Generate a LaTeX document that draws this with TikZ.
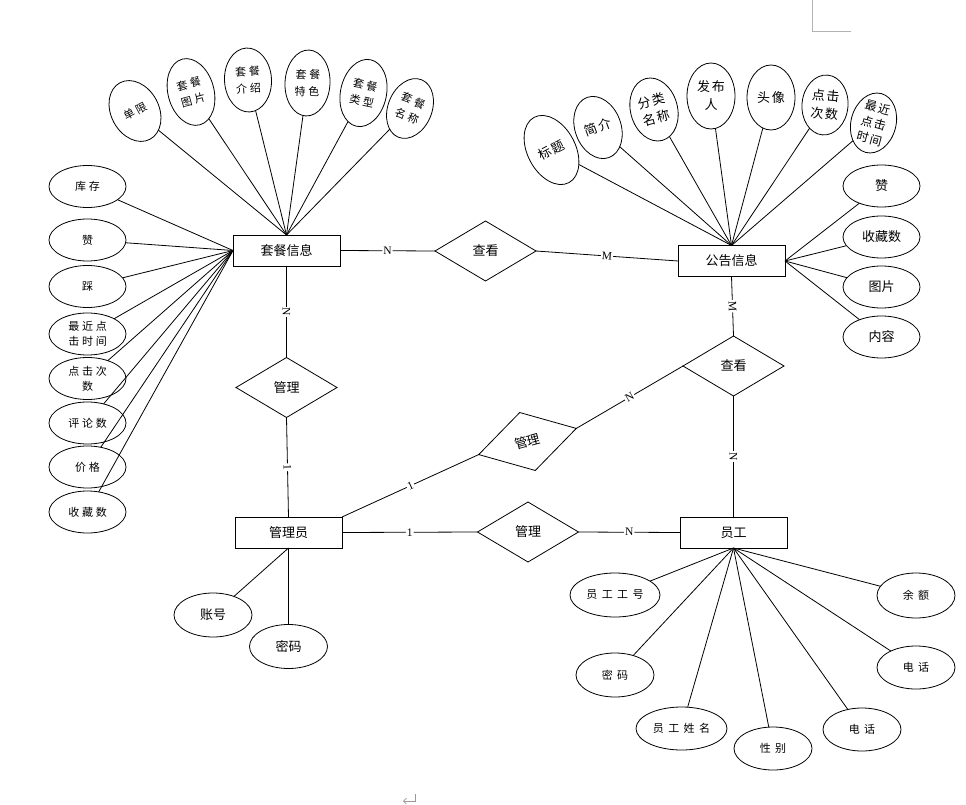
\documentclass[tikz,border=0pt]{standalone}
\usepackage{fontspec}
\setmainfont{Liberation Serif}
\newfontfamily\cjk{Noto Sans CJK SC}
\newfontfamily\cjkrt[LetterSpace=12]{Noto Sans CJK SC}
\newfontfamily\cjksp[LetterSpace=25]{Noto Sans CJK SC}
\newfontfamily\cjkwd[LetterSpace=40]{Noto Sans CJK SC}
\usetikzlibrary{shapes.geometric,arrows.meta}
\begin{document}
\begin{tikzpicture}[x=1pt,y=-1pt,
  ent/.style={draw, rectangle, minimum width=107pt, minimum height=31pt, inner sep=0pt, outer sep=0pt, line width=0.9pt, font=\cjk\fontsize{13}{15}\selectfont},
  rel/.style={draw, diamond, minimum width=101pt, minimum height=60pt, inner sep=0pt, outer sep=0pt, line width=0.8pt, font=\cjk\fontsize{13}{15}\selectfont},
  attr/.style={draw, ellipse, inner sep=0pt, outer sep=0pt, align=center, line width=0.8pt},
  sz/.style 2 args={minimum width=#1pt, minimum height=#2pt},
  ftop/.style={font=\cjksp\fontsize{11}{17}\selectfont},
  fgg/.style={font=\cjkrt\fontsize{13}{18}\selectfont},
  fleft/.style={font=\cjksp\fontsize{11}{15}\selectfont},
  fbig/.style={font=\cjk\fontsize{13}{15}\selectfont},
  fyg/.style={font=\cjkwd\fontsize{11}{15}\selectfont},
  lk/.style={line width=0.8pt},
  lbl/.style={fill=white, inner sep=1pt, sloped, font=\fontsize{11.5}{12}\selectfont}
]
\fill[white] (0,0) rectangle (966,805);
\useasboundingbox (0,0) rectangle (966,805);

% entities
\node[ent] (tc) at (286.5,250.5) {套餐信息};
\node[ent] (gg) at (731.5,261) {公告信息};
\node[ent] (gly) at (288.5,532.5) {管理员};
\node[ent] (yg) at (733.5,532.5) {员工};

% relationships
\node[rel] (ck1) at (485.5,251) {查看};
\node[rel] (gl1) at (286.5,387.5) {管理};
\node[rel] (ck2) at (733.5,366) {查看};
\node[rel, rotate=15] (gl2) at (527.5,441.5) {管理};
\node[rel] (gl3) at (528,532) {管理};

% relationship connectors
\draw[lk] (tc.east) -- node[lbl]{N} (ck1.west);
\draw[lk] (ck1.east) -- node[lbl]{M} (gg.west);
\draw[lk] (gg.south) -- node[lbl]{M} (ck2.north);
\draw[lk] (ck2.south) -- node[lbl]{N} (yg.north);
\draw[lk] (tc.south) -- node[lbl]{N} (gl1.north);
\draw[lk] (gl1.south) -- node[lbl]{1} (gly.north);
\draw[lk] (gly.north east) -- node[lbl]{1} (gl2.west);
\draw[lk] (gl2.east) -- node[lbl]{N} (ck2.west);
\draw[lk] (gly.east) -- node[lbl]{1} (gl3.west);
\draw[lk] (gl3.east) -- node[lbl]{N} (yg.west);

% 套餐信息 top attributes
\node[attr, ftop, sz={48}{64}, rotate=28] (t1) at (135,111) {单限};
\node[attr, ftop, sz={46}{68}, rotate=15] (t2) at (191,92) {套餐\\图片};
\node[attr, ftop, sz={47}{64}, rotate=3] (t3) at (248,80) {套餐\\介绍};
\node[attr, ftop, sz={45}{66}, rotate=-3] (t4) at (307.5,83) {套餐\\特色};
\node[attr, ftop, sz={46}{68}, rotate=-12] (t5) at (363.5,93) {套餐\\类型};
\node[attr, ftop, sz={44}{62}, rotate=-22] (t6) at (410,108.5) {套餐\\名称};
\foreach \n in {t1,t2,t3,t4,t5,t6} \draw[lk] (\n) -- (tc.north);

% 套餐信息 left attributes
\node[attr, fleft, sz={77}{42}] (l1) at (87.5,186.5) {库存};
\node[attr, fleft, sz={77}{42}] (l2) at (87.5,240) {赞};
\node[attr, fleft, sz={77}{42}] (l3) at (87.5,286.5) {踩};
\node[attr, fleft, sz={77}{42}] (l4) at (87.5,334) {最近点\\击时间};
\node[attr, fleft, sz={77}{42}] (l5) at (87.5,378.5) {点击次\\数};
\node[attr, fleft, sz={77}{42}] (l6) at (87.5,423) {评论数};
\node[attr, fleft, sz={77}{42}] (l7) at (87.5,467) {价格};
\node[attr, fleft, sz={77}{42}] (l8) at (87.5,512) {收藏数};
\foreach \n in {l1,l2,l3,l4,l5,l6,l7,l8} \draw[lk] (\n) -- (tc.west);

% 公告信息 top attributes
\node[attr, fgg, sz={48}{74}, rotate=28] (g1) at (551.5,150) {标题};
\node[attr, fgg, sz={46}{64}, rotate=20] (g2) at (598,127.5) {简介};
\node[attr, fgg, sz={47}{64}, rotate=15] (g3) at (654,109.5) {分类\\名称};
\node[attr, fgg, sz={48}{66}] (g4) at (711,96) {发布\\人};
\node[attr, fgg, sz={48}{65}] (g5) at (771,97.5) {头像};
\node[attr, fgg, sz={46}{60}, rotate=-5] (g6) at (825,105) {点击\\次数};
\node[attr, font=\cjkrt\fontsize{12}{16}\selectfont, sz={45}{60}, rotate=-15] (g7) at (873.5,123) {最近\\点击\\时间};
\foreach \n in {g1,g2,g3,g4,g5,g6,g7} \draw[lk] (\n) -- (gg.north);

% 公告信息 right attributes
\node[attr, fbig, sz={77}{42}] (r1) at (881.5,186) {赞};
\node[attr, fbig, sz={77}{42}] (r2) at (881.5,237) {收藏数};
\node[attr, fbig, sz={77}{42}] (r3) at (881.5,287) {图片};
\node[attr, fbig, sz={77}{42}] (r4) at (881.5,337) {内容};
\foreach \n in {r1,r2,r3,r4} \draw[lk] (\n) -- (gg.east);

% 管理员 attributes
\node[attr, fbig, sz={78}{44}] (m1) at (213,615) {账号};
\node[attr, fbig, sz={78}{44}] (m2) at (288.5,646.5) {密码};
\foreach \n in {m1,m2} \draw[lk] (\n) -- (gly.south);

% 员工 attributes
\node[attr, fyg, sz={90}{44}] (y1) at (615,595) {员工工号};
\node[attr, fyg, sz={78}{44}] (y2) at (615,675) {密码};
\node[attr, fyg, sz={91}{43}] (y3) at (681.5,728.5) {员工姓名};
\node[attr, fyg, sz={78}{43}] (y4) at (773,748.5) {性别};
\node[attr, fyg, sz={78}{43}] (y5) at (862,729.5) {电话};
\node[attr, fyg, sz={78}{43}] (y6) at (916,667.5) {电话};
\node[attr, fyg, sz={78}{45}] (y7) at (916,595.5) {余额};
\foreach \n in {y1,y2,y3,y4,y5,y6,y7} \draw[lk] (\n) -- (yg.south);

% page marks
\draw[gray!60, line width=0.8pt] (812,0) -- (812,31) -- (851,31);
\draw[gray!80, line width=0.7pt, -{Straight Barb[length=3pt]}] (415,794) -- (415,801) -- (403,801);
\end{tikzpicture}
\end{document}
